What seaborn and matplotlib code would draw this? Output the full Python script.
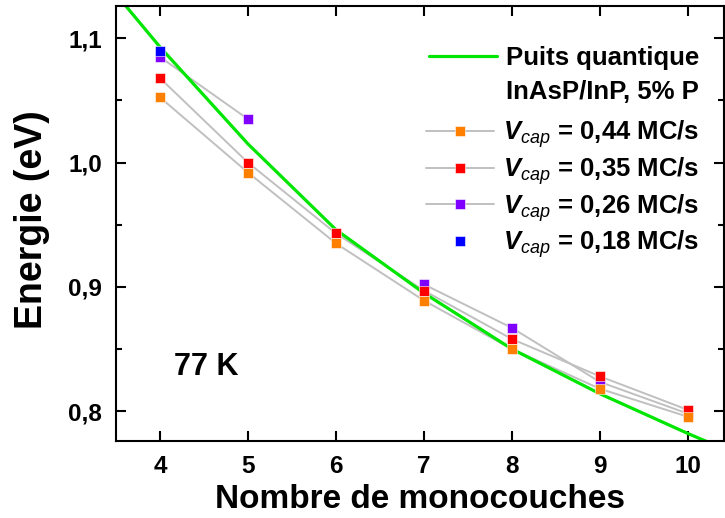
import numpy as np
import pandas as pd
import matplotlib
matplotlib.use('Agg')
import matplotlib.pyplot as plt
import seaborn as sns
from matplotlib.lines import Line2D
from matplotlib.ticker import MultipleLocator

# Données (énergie en eV)
monocouches = [4, 5, 6, 7, 8, 9, 10]
e_044 = [1.0525, 0.992, 0.935, 0.889, 0.850, 0.818, 0.7955]
e_035 = [1.068, 1.000, 0.943, 0.897, 0.858, 0.828, 0.801]
e_026 = [1.085, 1.035, np.nan, 0.902, 0.867, 0.8235, 0.798]
e_018 = [1.0895, np.nan, np.nan, np.nan, np.nan, np.nan, np.nan]

puits_x = [3, 4, 5, 6, 7, 8, 9, 10, 11]
puits_e = [1.178, 1.093, 1.015, 0.946, 0.895, 0.850, 0.814, 0.782, 0.752]

series = ['0,26', '0,35', '0,44', '0,18']
valeurs = [e_026, e_035, e_044, e_018]
couleurs = {'0,44': '#ff8000', '0,35': '#ff0000', '0,26': '#8000ff', '0,18': '#0000ff'}
avec_ligne = {'0,44': True, '0,35': True, '0,26': True, '0,18': False}

rows = []
for s, vals in zip(series, valeurs):
    seg = 0
    for x, e in zip(monocouches, vals):
        if np.isnan(e):
            seg += 1
            continue
        rows.append({'vcap': s, 'n': x, 'E': e, 'seg': seg})
df = pd.DataFrame(rows)
df_puits = pd.DataFrame({'n': puits_x, 'E': puits_e})

sns.set_style('ticks')
plt.rcParams['font.family'] = ['Liberation Sans', 'DejaVu Sans']
plt.rcParams['font.weight'] = 'bold'
for k in ['text.color', 'axes.labelcolor', 'xtick.color', 'ytick.color', 'axes.edgecolor']:
    plt.rcParams[k] = 'black'
plt.rcParams['mathtext.fontset'] = 'custom'
plt.rcParams['mathtext.rm'] = 'Liberation Sans:bold'
plt.rcParams['mathtext.bf'] = 'Liberation Sans:bold'
plt.rcParams['mathtext.it'] = 'Liberation Sans:slant=italic:weight=normal'
plt.rcParams['mathtext.bfit'] = 'Liberation Sans:slant=italic:weight=bold'

fig = plt.figure(figsize=(7.25, 5.18), dpi=100)
ax = fig.add_axes([116 / 725, 1 - 441 / 518, (724 - 116) / 725, (441 - 6) / 518])

# lignes grises
for s in series:
    if not avec_ligne[s]:
        continue
    sub = df[df['vcap'] == s]
    sns.lineplot(data=sub, x='n', y='E', units='seg', estimator=None,
                 color='#c0c0c0', lw=1.4, ax=ax, zorder=2, legend=False)

# puits quantique
sns.lineplot(data=df_puits, x='n', y='E', color='#00e600', lw=2.3, ax=ax,
             zorder=2.5, legend=False)

# points
for s in series:
    sub = df[df['vcap'] == s]
    sns.scatterplot(data=sub, x='n', y='E', marker='s', s=46,
                    color=couleurs[s], edgecolor='white', linewidth=0.4,
                    ax=ax, zorder=3, legend=False)

ax.set_xlim(3.5, 10.41)
ax.set_ylim(0.776, 1.126)
ax.set_xticks(monocouches)
ax.set_xticklabels([str(m) for m in monocouches])
ax.set_yticks([0.8, 0.9, 1.0, 1.1])
ax.set_yticklabels(['0,8', '0,9', '1,0', '1,1'])
ax.yaxis.set_minor_locator(MultipleLocator(0.05))
ax.tick_params(which='both', direction='in', top=True, right=True,
               width=1.5, labelsize=17.5, pad=10)
ax.tick_params(which='major', length=7)
ax.tick_params(which='minor', length=4)
for sp in ax.spines.values():
    sp.set_linewidth(1.5)

ax.set_xlabel('Nombre de monocouches', fontsize=24, fontweight='bold', va='center')
ax.xaxis.set_label_coords(0.5, -0.135)
ax.set_ylabel('Energie (eV)', fontsize=27, fontweight='bold', va='center')
ax.yaxis.set_label_coords(-0.138, 0.508)

ax.text(4.53, 0.8353, '77 K', fontsize=22, fontweight='bold',
        ha='center', va='center')

# légende : puits quantique
h1 = [Line2D([], [], color='#00e600', lw=2.3), Line2D([], [], color='none')]
l1 = ['Puits quantique', 'InAsP/InP, 5% P']
leg1 = ax.legend(h1, l1, loc='upper right', bbox_to_anchor=(0.96, 0.908),
                 frameon=False, fontsize=18.5, handlelength=2.65,
                 handletextpad=0.35, borderpad=0, borderaxespad=0,
                 labelspacing=0.38)
ax.add_artist(leg1)

# légende : vitesses de croissance
h2, l2 = [], []
for s in ['0,44', '0,35', '0,26', '0,18']:
    h2.append(Line2D([], [], color='#c0c0c0' if avec_ligne[s] else 'none',
                     lw=1.4, marker='s', markersize=7,
                     markerfacecolor=couleurs[s], markeredgecolor='white',
                     markeredgewidth=0.4))
    l2.append(r'$\mathbfit{V}_{cap}$' + ' = ' + s + ' MC/s')
ax.legend(h2, l2, loc='upper right', bbox_to_anchor=(0.96, 0.742),
          frameon=False, fontsize=18.5, handlelength=2.65, handletextpad=0.35,
          borderpad=0, borderaxespad=0, labelspacing=0.2)

plt.savefig('out.png', dpi=100)
plt.close()
